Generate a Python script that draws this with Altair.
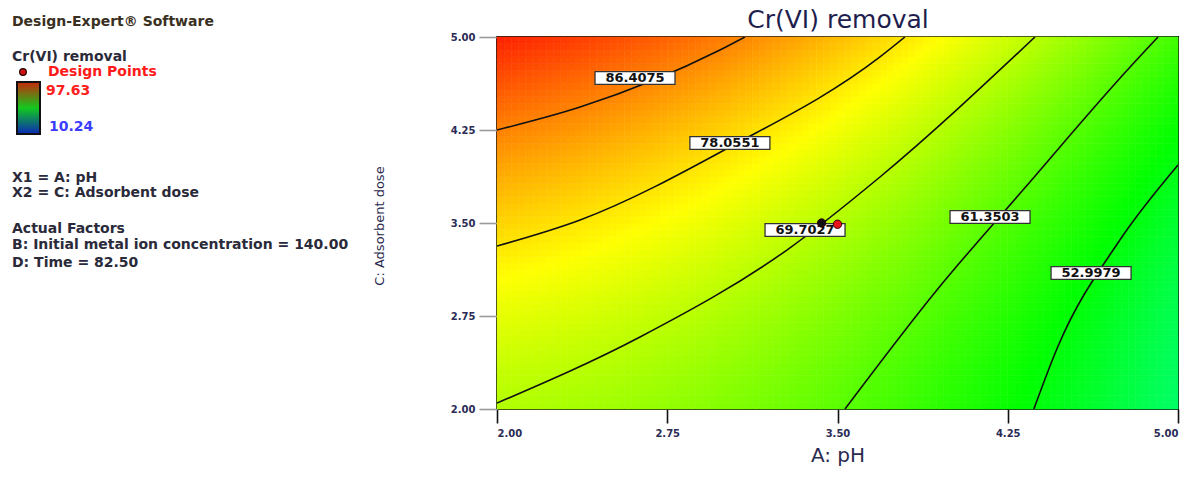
import altair as alt
import numpy as np
import pandas as pd

# ---------------------------------------------------------------------------
# Cr(VI) removal (%) vs A: pH and C: Adsorbent dose
# (B: initial metal ion concentration = 140.00, D: time = 82.50)
# ---------------------------------------------------------------------------
levels = [86.4075, 78.0551, 69.7027, 61.3503, 52.9979]
level_text = ["86.4075", "78.0551", "69.7027", "61.3503", "52.9979"]

# traced contour lines (pH, adsorbent dose) for each level
c1_ph = [2.000, 2.366, 2.982, 3.092]
c1_dose = [4.250, 4.435, 4.895, 5.000]
c2_ph = [2.000, 2.366, 3.026, 3.687, 3.797]
c2_dose = [3.314, 3.524, 4.113, 4.839, 5.000]
c3_ph = [2.000, 2.630, 3.277, 3.687, 4.370]
c3_dose = [2.048, 2.581, 3.282, 3.871, 5.000]
c4_ph = [3.533, 3.938, 4.317, 4.789, 4.912]
c4_dose = [2.000, 2.960, 3.766, 4.758, 5.000]
c5_ph = [4.365, 4.470, 4.744, 5.000]
c5_dose = [2.000, 2.500, 3.363, 3.968]

# response at the corners of the design region
corner_ph = [2.0, 5.0, 2.0, 5.0]
corner_dose = [5.0, 2.0, 2.0, 5.0]
corner_val = [94.5, 45.5, 69.0, 58.5]

# contour label anchors
label_ph = [2.608, 3.026, 3.357, 4.172, 4.617]
label_dose = [4.669, 4.145, 3.444, 3.548, 3.097]

# design points
design_ph = [3.43, 3.50]
design_dose = [3.50, 3.49]
design_fill = ["#111111", "#e8141a"]

# response range of the colour map
resp_min, resp_max = 10.24, 97.63

# ---------------------------------------------------------------------------
# quadratic response surface through the traced contours
# ---------------------------------------------------------------------------
ph_lists = [c1_ph, c2_ph, c3_ph, c4_ph, c5_ph]
dose_lists = [c1_dose, c2_dose, c3_dose, c4_dose, c5_dose]

ph_all = np.concatenate(ph_lists + [corner_ph])
dose_all = np.concatenate(dose_lists + [corner_dose])
val_all = np.concatenate([[lv] * len(p) for lv, p in zip(levels, ph_lists)] + [corner_val])


def basis(a, c):
    u = (np.asarray(a, dtype=float) - 3.5) / 1.5
    v = (np.asarray(c, dtype=float) - 3.5) / 1.5
    return np.column_stack([np.ones_like(u), u, v, u * u, v * v, u * v])


coef, *_ = np.linalg.lstsq(basis(ph_all, dose_all), val_all, rcond=None)

nx, ny = 96, 56
xe = np.linspace(2.0, 5.0, nx + 1)
ye = np.linspace(2.0, 5.0, ny + 1)
X0, Y0 = np.meshgrid(xe[:-1], ye[:-1])
X1, Y1 = np.meshgrid(xe[1:], ye[1:])
Z = basis(((X0 + X1) / 2).ravel(), ((Y0 + Y1) / 2).ravel()) @ coef
grid = pd.DataFrame({"x": X0.ravel(), "x2": X1.ravel(),
                     "y": Y0.ravel(), "y2": Y1.ravel(), "z": Z})

lines = pd.concat([
    pd.DataFrame({"ph": p, "dose": d, "level": t})
    for p, d, t in zip(ph_lists, dose_lists, level_text)
])
labels = pd.DataFrame({"ph": label_ph, "dose": label_dose, "text": level_text})
design = pd.DataFrame({"ph": design_ph, "dose": design_dose, "fill": design_fill})

# ---------------------------------------------------------------------------
# layout (pixels)
# ---------------------------------------------------------------------------
W, H = 681, 372
LEFT, TOP = 497, 37
FONT = "DejaVu Sans"

xs = alt.Scale(domain=[2, 5], nice=False, zero=False)
ys = alt.Scale(domain=[2, 5], nice=False, zero=False)
tick_vals = [2.0, 2.75, 3.5, 4.25, 5.0]

x_axis = alt.Axis(
    values=tick_vals, format=".2f", title=None, grid=False, domain=False,
    tickColor="#111111", tickSize=14, tickWidth=1.6, labelPadding=5,
    labelFont=FONT, labelFontSize=10, labelFontWeight="bold",
    labelColor="#2b2b55")
y_axis = alt.Axis(
    values=tick_vals, format=".2f", title=None, grid=False, domain=False,
    tickColor="#9a9a9a", tickSize=18, tickWidth=1.6, labelPadding=4,
    labelFont=FONT, labelFontSize=10, labelFontWeight="bold",
    labelColor="#2b2b55")


def xy(xf, yf):
    return dict(
        x=alt.X(xf, scale=xs, axis=x_axis),
        y=alt.Y(yf, scale=ys, axis=y_axis),
    )


cscale = alt.Scale(
    domain=[resp_min, 32.0875, 53.935, 75.7825, resp_max],
    range=["#0000ff", "#00ffff", "#00ff00", "#ffff00", "#ff0000"],
    interpolate="rgb",
    clamp=True,
)

heat = alt.Chart(grid).mark_rect(strokeWidth=0.6).encode(
    **xy("x:Q", "y:Q"),
    x2="x2:Q",
    y2="y2:Q",
    color=alt.Color("z:Q", scale=cscale, legend=None),
    stroke=alt.Stroke("z:Q", scale=cscale, legend=None),
)

contours = alt.Chart(lines).mark_line(
    color="#111111", strokeWidth=1.6, interpolate="monotone", clip=True
).encode(
    **xy("ph:Q", "dose:Q"),
    detail="level:N",
)

box_shape = "M-1,-0.16L1,-0.16L1,0.16L-1,0.16Z"
boxes = alt.Chart(labels).mark_point(
    shape=box_shape, size=80 ** 2, fill="white", fillOpacity=1,
    stroke="#333333", strokeWidth=1.3, opacity=1,
).encode(**xy("ph:Q", "dose:Q"))

box_text = alt.Chart(labels).mark_text(
    font=FONT, fontSize=13, fontWeight="bold", color="#111111",
    align="center", baseline="middle",
).encode(**xy("ph:Q", "dose:Q"), text="text:N")

points = alt.Chart(design).mark_point(
    filled=True, size=70, opacity=1, stroke="#330000", strokeWidth=1
).encode(
    **xy("ph:Q", "dose:Q"),
    fill=alt.Fill("fill:N", scale=None),
)


def text_at(txt, px, py, size, color, weight="normal", align="left", angle=0):
    return alt.Chart(pd.DataFrame({"t": [txt]})).mark_text(
        font=FONT, fontSize=size, fontWeight=weight, color=color,
        align=align, baseline="middle", angle=angle,
    ).encode(text="t:N", x=alt.value(px - LEFT), y=alt.value(py - TOP))


one = pd.DataFrame({"k": [0]})

color_bar = alt.Chart(one).mark_rect(
    color=alt.Gradient(
        gradient="linear", x1=0, x2=0, y1=0, y2=1,
        stops=[alt.GradientStop(color="#c8280a", offset=0),
               alt.GradientStop(color="#12c81e", offset=0.5),
               alt.GradientStop(color="#0a28b8", offset=1)],
    ),
    stroke="#111111", strokeWidth=2,
).encode(
    x=alt.value(17 - LEFT), x2=alt.value(40 - LEFT),
    y=alt.value(82 - TOP), y2=alt.value(134 - TOP),
)

bullet = alt.Chart(one).mark_point(
    filled=True, size=45, fill="#d01010", stroke="#220000", strokeWidth=1.2, opacity=1
).encode(x=alt.value(23 - LEFT), y=alt.value(72 - TOP))

panel_color = "#2a2a3a"
annotations = [
    text_at("Design-Expert® Software", 12, 22, 14, "#3a3022", "bold"),
    text_at("Cr(VI) removal", 12, 57, 14, panel_color, "bold"),
    text_at("Design Points", 48, 72, 14, "#ff1a1a", "bold"),
    text_at("97.63", 46, 91, 14, "#ff2020", "bold"),
    text_at("10.24", 49, 127, 14, "#3c3cff", "bold"),
    text_at("X1 = A: pH", 12, 178, 14, panel_color, "bold"),
    text_at("X2 = C: Adsorbent dose", 12, 193, 14, panel_color, "bold"),
    text_at("Actual Factors", 12, 229, 14, panel_color, "bold"),
    text_at("B: Initial metal ion concentration = 140.00", 12, 245, 14, panel_color, "bold"),
    text_at("D: Time = 82.50", 12, 263, 14, panel_color, "bold"),
    text_at("C: Adsorbent dose", 380, 226, 13, "#2b2b50", "normal", "center", 270),
    text_at("A: pH", 838, 456, 20, "#2b2b50", "normal", "center"),
    text_at("Cr(VI) removal", 838, 20, 25, "#1e1e4e", "normal", "center"),
]

chart = alt.layer(
    heat, contours, boxes, box_text, points, color_bar, bullet, *annotations
).properties(
    width=W,
    height=H,
    autosize=alt.AutoSizeParams(type="none"),
    padding={"left": LEFT, "top": TOP, "right": 1198 - LEFT - W, "bottom": 491 - TOP - H},
    background="white",
).configure_view(
    stroke="#1a1a1a", strokeWidth=2
)

chart.save("out.html", embed_options={"renderer": "svg", "actions": False})
